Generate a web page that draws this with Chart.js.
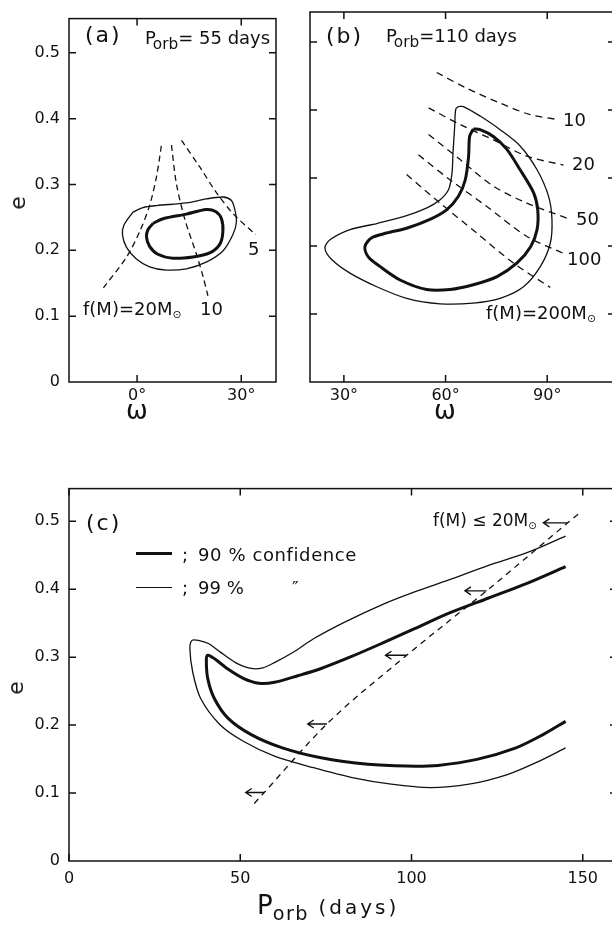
<!DOCTYPE html>
<html>
<head>
<meta charset="utf-8">
<script src="https://cdn.jsdelivr.net/npm/chart.js@4.4.1/dist/chart.umd.min.js"></script>
<style>
html, body { margin: 0; padding: 0; background: #fff; overflow: hidden; }
#wrap { position: relative; width: 612px; height: 925px; overflow: hidden; font-family: "DejaVu Sans", sans-serif; color: #111; }
canvas { position: absolute; }
.t { position: absolute; white-space: nowrap; line-height: 1; transform: translateY(-50%); font-size: 18px; }
.c { transform: translate(-50%, -50%); }
.t sub { font-size: 0.85em; position: relative; top: 0.3em; vertical-align: baseline; }
.sw { position: absolute; background: #111; }
</style>
</head>
<body>
<div id="wrap">
  <canvas id="chartA" width="290" height="410" style="left:0;top:0"></canvas>
  <canvas id="chartB" width="340" height="410" style="left:300px;top:0"></canvas>
  <canvas id="chartC" width="640" height="455" style="left:0;top:470px"></canvas>

  <!-- panel (a) -->
  <div class="t" style="left:85px;top:35px;font-size:22px;letter-spacing:2px">(a)</div>
  <div class="t" style="left:145px;top:38px">P<sub style="margin-left:-3px">orb</sub>= 55 days</div>
  <div class="t" style="left:248px;top:249px">5</div>
  <div class="t" style="left:83px;top:309px">f(M)=20M<sub style="font-size:0.6em">⊙</sub></div>
  <div class="t" style="left:200px;top:309px">10</div>
  <div class="t c" style="left:137px;top:410px;font-size:26px">ω</div>
  <div class="t c" style="left:18px;top:203px;font-size:22px;transform:translate(-50%,-50%) rotate(-90deg)">e</div>

  <!-- panel (b) -->
  <div class="t" style="left:326px;top:36px;font-size:22px;letter-spacing:2px">(b)</div>
  <div class="t" style="left:386px;top:36px">P<sub style="margin-left:-3px">orb</sub>=110 days</div>
  <div class="t" style="left:563px;top:120px">10</div>
  <div class="t" style="left:572px;top:164px">20</div>
  <div class="t" style="left:576px;top:219px">50</div>
  <div class="t" style="left:567px;top:259px">100</div>
  <div class="t" style="left:486px;top:313px">f(M)=200M<sub style="font-size:0.6em">⊙</sub></div>
  <div class="t c" style="left:445px;top:410px;font-size:26px">ω</div>

  <!-- panel (c) -->
  <div class="t" style="left:86px;top:523px;font-size:22px;letter-spacing:2px">(c)</div>
  <div class="sw" style="left:136px;top:552px;width:36px;height:3px"></div>
  <div class="sw" style="left:136px;top:587px;width:36px;height:1.3px"></div>
  <div class="t" style="left:182px;top:555px">;</div>
  <div class="t" style="left:198px;top:555px;letter-spacing:0.6px">90 % confidence</div>
  <div class="t" style="left:182px;top:588px">;</div>
  <div class="t" style="left:198px;top:588px">99 %</div>
  <div class="t" style="left:292px;top:588px">″</div>
  <div class="t" style="left:433px;top:520px;font-size:17px">f(M) ≤ 20M<sub style="font-size:0.6em">⊙</sub></div>
  <div class="t" style="left:257px;top:905px;font-size:26px">P<sub style="font-size:0.74em;letter-spacing:1.5px">orb</sub><span style="font-size:20px;letter-spacing:3px"> (days)</span></div>
  <div class="t c" style="left:16px;top:688px;font-size:22px;transform:translate(-50%,-50%) rotate(-90deg)">e</div>
</div>

<script>
// ---- tick positions ----
const eTicks = [0, 0.1, 0.2, 0.3, 0.4, 0.5];
const aOmegaTicks = [0, 30];
const bOmegaTicks = [30, 60, 90];
const cPorbTicks = [0, 50, 100, 150];

// ---- panel (a): P_orb = 55 d, [omega (deg), e] ----
const a99 = [[-1.2,0.258],[1.7,0.265],[5.6,0.268],[14.2,0.272],[19.9,0.278],[24.7,0.281],[27.1,0.276],[28.1,0.263],[28.6,0.243],[27.6,0.224],[24.7,0.199],[19.9,0.182],[14.2,0.172],[8.4,0.170],[3.6,0.175],[-0.2,0.187],[-3.0,0.204],[-4.2,0.223],[-3.8,0.238],[-1.2,0.258]];
const a90 = [[4.6,0.241],[7.5,0.248],[14.2,0.255],[19.9,0.262],[22.6,0.259],[24.3,0.248],[24.7,0.228],[23.8,0.209],[20.9,0.196],[16.1,0.190],[10.3,0.188],[6.0,0.194],[3.6,0.206],[2.7,0.221],[3.2,0.232],[4.6,0.241]];
const aFM20 = [[-9.7,0.143],[-3.0,0.19],[0.8,0.229],[3.6,0.268],[5.6,0.312],[7.0,0.359]];
const aFM10 = [[9.9,0.36],[11.3,0.302],[13.7,0.248],[17.1,0.194],[19.0,0.16],[20.4,0.131]];
const aFM5 = [[12.8,0.367],[18.0,0.327],[22.8,0.288],[27.6,0.256],[34.1,0.224]];

// ---- panel (b): P_orb = 110 d ----
const b99 = [[63.8,0.405],[65.3,0.405],[70.2,0.391],[76.1,0.371],[82.0,0.347],[87.0,0.312],[90.4,0.273],[91.4,0.239],[90.9,0.204],[88.0,0.170],[83.0,0.140],[76.1,0.123],[68.2,0.116],[58.4,0.115],[48.5,0.123],[39.7,0.140],[31.8,0.160],[26.4,0.180],[24.4,0.197],[25.9,0.209],[31.8,0.224],[39.7,0.233],[47.6,0.243],[54.5,0.256],[58.4,0.268],[60.9,0.283],[61.9,0.307],[62.2,0.337],[62.7,0.376],[63.0,0.401],[63.8,0.405]];
const b90 = [[68.2,0.372],[70.2,0.371],[74.1,0.361],[78.1,0.342],[82.0,0.312],[86.0,0.278],[87.2,0.253],[87.0,0.224],[85.1,0.199],[81.1,0.175],[75.2,0.155],[68.2,0.143],[61.3,0.136],[54.4,0.136],[46.6,0.150],[40.6,0.170],[37.2,0.184],[36.2,0.199],[38.2,0.212],[42.6,0.219],[48.5,0.226],[55.4,0.239],[60.3,0.253],[63.8,0.273],[65.8,0.297],[66.8,0.332],[67.1,0.361],[68.2,0.372]];
const bFM10 = [[57.4,0.455],[66.2,0.432],[76.1,0.41],[85.0,0.393],[92.9,0.386]];
const bFM20 = [[55.0,0.403],[64.5,0.378],[74.1,0.356],[84.0,0.332],[94.8,0.319]];
const bFM50 = [[55.0,0.364],[64.3,0.327],[74.1,0.288],[84.0,0.263],[95.8,0.241]];
const bFM100 = [[52.0,0.334],[61.4,0.297],[72.2,0.258],[84.0,0.214],[94.8,0.189]];
const bFM200 = [[48.5,0.305],[58.4,0.263],[69.2,0.219],[80.0,0.175],[90.9,0.139]];

// ---- panel (c): [P_orb (days), e] ----
const c99 = [[145.0,0.478],[133.9,0.454],[122.5,0.435],[111.1,0.414],[100.9,0.396],[91.8,0.378],[80.5,0.3515],[71.4,0.327],[65.7,0.308],[60.0,0.292],[56.6,0.2843],[53.2,0.2833],[48.6,0.292],[44.1,0.3077],[40.7,0.320],[37.8,0.3247],[35.9,0.3247],[35.3,0.3125],[36.1,0.2785],[38.4,0.2395],[44.1,0.2006],[50.9,0.1762],[60.0,0.1543],[71.4,0.1373],[82.7,0.1227],[94.1,0.113],[105.5,0.108],[116.8,0.113],[128.2,0.1276],[137.3,0.147],[145.0,0.1665]];
const c90 = [[145.0,0.4333],[133.9,0.409],[122.5,0.387],[111.1,0.365],[100.9,0.3418],[91.8,0.3213],[82.7,0.3014],[73.6,0.2833],[66.8,0.2726],[60.0,0.2629],[55.5,0.2614],[50.9,0.2687],[46.4,0.2824],[42.4,0.298],[40.5,0.3028],[40.1,0.2955],[40.5,0.2687],[42.4,0.2395],[46.4,0.2103],[53.2,0.186],[62.3,0.1665],[73.6,0.1519],[87.3,0.1422],[98.6,0.1397],[107.7,0.1407],[119.1,0.1495],[130.5,0.1665],[138.4,0.186],[145.0,0.2055]];
const cFM20 = [[54.1,0.0847],[57.0,0.1008],[75.3,0.2016],[98.6,0.3028],[121.9,0.3975],[145.6,0.4976],[149.2,0.5127]];
const cArrowE = [0.4976, 0.3975, 0.3028, 0.2016, 0.1008];
const cArrowFrom = [145.6, 121.9, 98.6, 75.3, 57.0];
const cArrowTo = [138.5, 115.6, 92.4, 69.7, 51.6];

const INK = '#111';
const FONT = "'DejaVu Sans', sans-serif";

function pts(arr) {
    return arr.map(p => ({ x: p[0], y: p[1] }));
}

function solid(arr, width) {
    return { data: pts(arr), showLine: true, borderColor: INK, borderWidth: width, pointRadius: 0, tension: 0.3, fill: false };
}

function dashed(arr, dash) {
    return { data: pts(arr), showLine: true, borderColor: INK, borderWidth: 1.3, borderDash: dash, pointRadius: 0, tension: 0.3, fill: false };
}

// frame round the plot area, with inward ticks on all four sides
const framePlugin = {
    id: 'frame',
    afterDraw(chart, args, opts) {
        const { ctx, chartArea: a, scales } = chart;
        const x = scales.x, y = scales.y;
        const len = 7;
        ctx.save();
        ctx.strokeStyle = INK;
        ctx.lineWidth = 1.5;
        ctx.strokeRect(a.left, a.top, a.right - a.left, a.bottom - a.top);
        ctx.beginPath();
        (opts.xTicks || []).forEach(v => {
            const px = x.getPixelForValue(v);
            ctx.moveTo(px, a.bottom); ctx.lineTo(px, a.bottom - len);
            ctx.moveTo(px, a.top); ctx.lineTo(px, a.top + len);
        });
        (opts.yTicks || []).forEach(v => {
            if (v === 0) return;
            const py = y.getPixelForValue(v);
            ctx.moveTo(a.left, py); ctx.lineTo(a.left + len, py);
            ctx.moveTo(a.right, py); ctx.lineTo(a.right - len, py);
        });
        ctx.stroke();
        ctx.restore();
    }
};

// left-pointing arrows for panel (c)
const arrowPlugin = {
    id: 'arrows',
    afterDatasetsDraw(chart, args, opts) {
        if (!opts.e) return;
        const { ctx, scales: { x, y } } = chart;
        ctx.save();
        ctx.strokeStyle = INK;
        ctx.lineWidth = 1.4;
        opts.e.forEach((ev, i) => {
            const py = y.getPixelForValue(ev);
            const x0 = x.getPixelForValue(opts.from[i]);
            const x1 = x.getPixelForValue(opts.to[i]);
            ctx.beginPath();
            ctx.moveTo(x0, py); ctx.lineTo(x1, py);
            ctx.moveTo(x1 + 6, py - 4); ctx.lineTo(x1, py); ctx.lineTo(x1 + 6, py + 4);
            ctx.stroke();
        });
        ctx.restore();
    }
};

function makeChart(id, datasets, o) {
    return new Chart(document.getElementById(id), {
        type: 'scatter',
        data: { datasets: datasets },
        plugins: [framePlugin, arrowPlugin],
        options: {
            responsive: false,
            animation: false,
            events: [],
            layout: { padding: o.padding },
            plugins: {
                legend: { display: false },
                tooltip: { enabled: false },
                frame: { xTicks: o.xTicks, yTicks: eTicks },
                arrows: o.arrows || {}
            },
            scales: {
                x: {
                    type: 'linear', min: o.xMin, max: o.xMax,
                    grid: { display: false, drawTicks: false },
                    border: { display: false },
                    afterBuildTicks: s => { s.ticks = o.xTicks.map(v => ({ value: v })); },
                    afterFit: s => { s.height = o.xHeight; },
                    ticks: {
                        padding: o.xPad, color: INK, maxRotation: 0, autoSkip: false,
                        font: { family: FONT, size: 16 },
                        callback: o.xLabel
                    }
                },
                y: {
                    type: 'linear', min: 0, max: o.yMax,
                    grid: { display: false, drawTicks: false },
                    border: { display: false },
                    afterBuildTicks: s => { s.ticks = eTicks.map(v => ({ value: v })); },
                    afterFit: s => { s.width = o.yWidth; },
                    ticks: {
                        display: o.yLabels, padding: 9, color: INK,
                        font: { family: FONT, size: 16 },
                        callback: v => v === 0 ? '0' : v.toFixed(1)
                    }
                }
            }
        }
    });
}

const deg = v => v + '°';

makeChart('chartA', [
    solid(a99, 1.3), solid(a90, 3),
    dashed(aFM20, [6, 4]), dashed(aFM10, [6, 4]), dashed(aFM5, [6, 4])
], {
    xMin: -19.6, xMax: 40, yMax: 0.552, xTicks: aOmegaTicks, xLabel: deg,
    padding: { left: 0, top: 7, right: 14, bottom: 0 }, xHeight: 28, xPad: 4,
    yWidth: 69, yLabels: true
});

makeChart('chartB', [
    solid(b99, 1.3), solid(b90, 3),
    dashed(bFM10, [7, 5]), dashed(bFM20, [7, 5]), dashed(bFM50, [7, 5]),
    dashed(bFM100, [7, 5]), dashed(bFM200, [7, 5])
], {
    xMin: 20, xMax: 110, yMax: 0.544, xTicks: bOmegaTicks, xLabel: deg,
    padding: { left: 0, top: 12, right: 25, bottom: 0 }, xHeight: 28, xPad: 4,
    yWidth: 10, yLabels: false
});

// the f(M) limit in (c) is a smooth, monotone line
const cLimit = dashed(cFM20, [6, 5]);
cLimit.cubicInterpolationMode = 'monotone';

makeChart('chartC', [
    solid(c99, 1.3), solid(c90, 3), cLimit
], {
    xMin: 0, xMax: 160, yMax: 0.548, xTicks: cPorbTicks, xLabel: v => String(v),
    padding: { left: 0, top: 15, right: 23, bottom: 0 }, xHeight: 64, xPad: 8,
    yWidth: 69, yLabels: true,
    arrows: { e: cArrowE, from: cArrowFrom, to: cArrowTo }
});
</script>
</body>
</html>
